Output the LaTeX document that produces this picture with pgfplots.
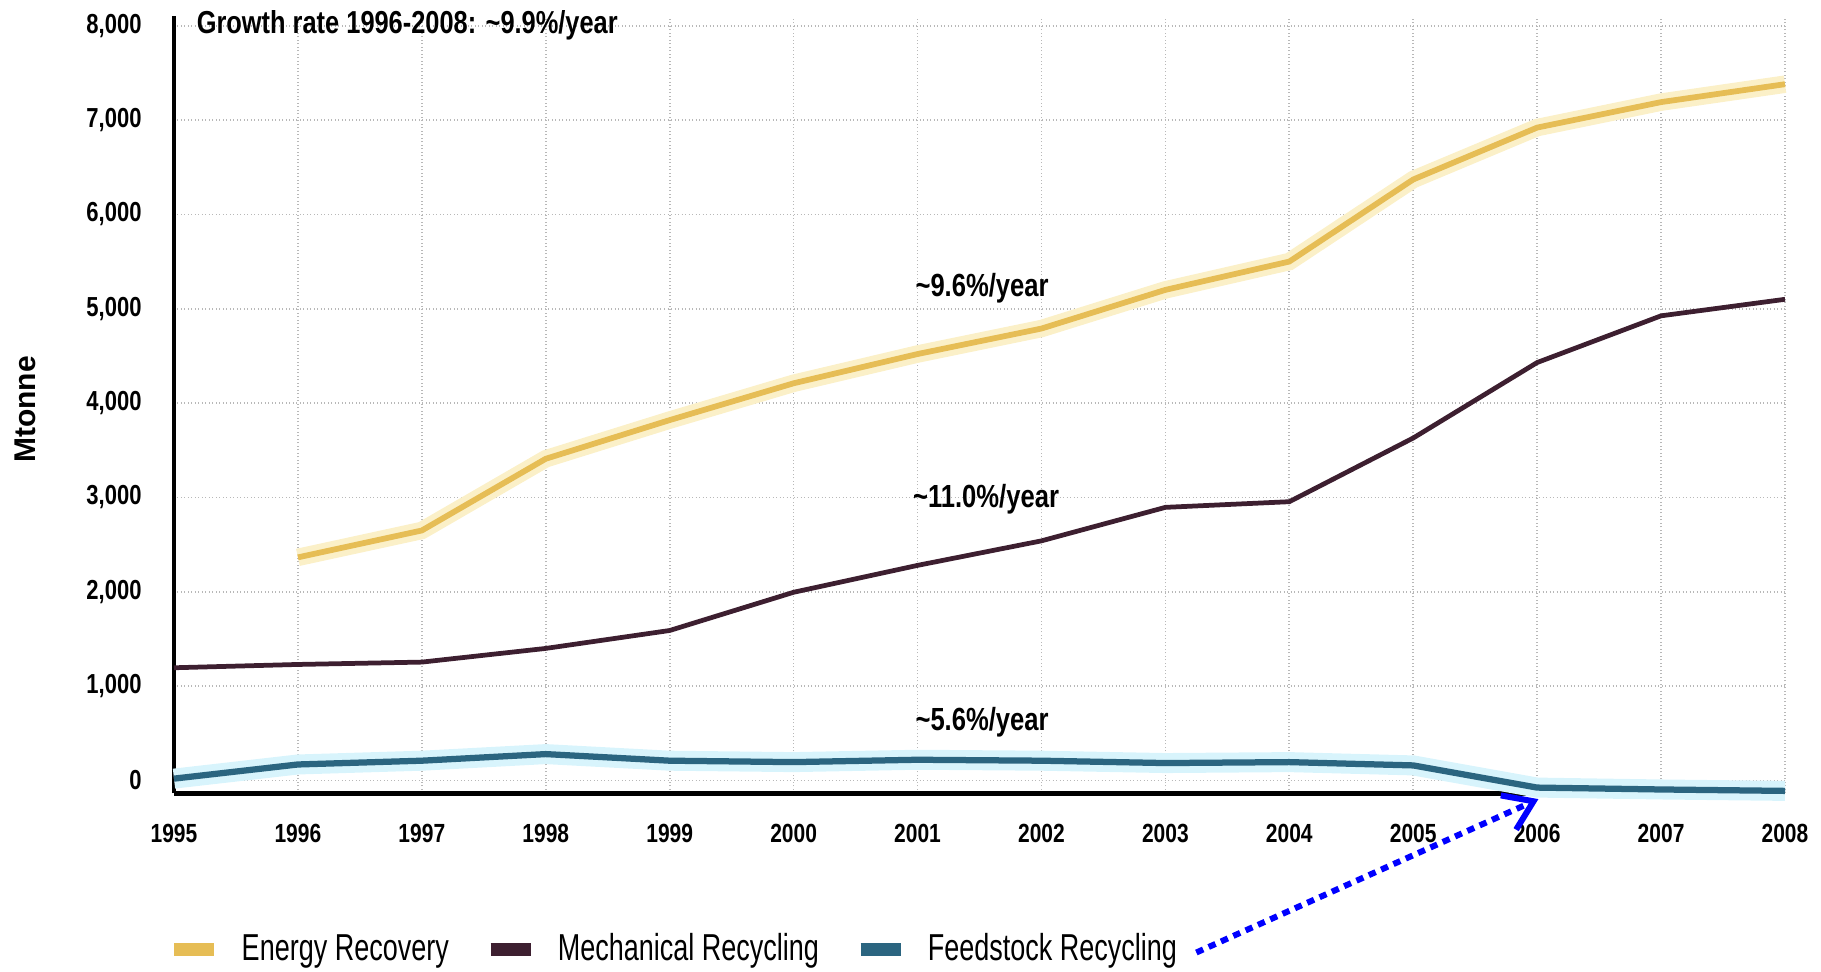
\documentclass[border=0pt]{standalone}
\usepackage{pgfplots}
\pgfplotsset{compat=1.18}
\usepackage{fontspec}
\setmainfont{Liberation Sans}
\newfontfamily\condf[FakeStretch=0.8]{Liberation Sans}
\newfontfamily\legf[FakeStretch=0.72]{Liberation Sans}
\usetikzlibrary{arrows.meta}
\definecolor{energy}{HTML}{E6BD55}
\definecolor{mech}{HTML}{3D1F30}
\definecolor{feed}{HTML}{2B6580}
\definecolor{energyglow}{HTML}{FBF0C8}
\definecolor{feedglow}{HTML}{D8F4FC}

\pgfplotstableread{
year val
1996 2365
1997 2650
1998 3410
1999 3820
2000 4210
2001 4520
2002 4790
2003 5200
2004 5500
2005 6370
2006 6920
2007 7190
2008 7380
}\energytab

\pgfplotstableread{
year val
1995 1195
1996 1230
1997 1255
1998 1400
1999 1590
2000 1995
2001 2280
2002 2540
2003 2895
2004 2955
2005 3630
2006 4430
2007 4925
2008 5100
}\mechtab

\pgfplotstableread{
year val
1995 20
1996 170
1997 210
1998 280
1999 210
2000 195
2001 220
2002 210
2003 185
2004 195
2005 160
2006 -75
2007 -95
2008 -110
}\feedtab

\begin{document}
\begin{tikzpicture}
\useasboundingbox (-69.6pt,-71.2pt) rectangle (658.8pt,317.3pt);
\begin{axis}[
  at={(0pt,0pt)}, anchor=south west,
  scale only axis, width=644.4pt, height=310.8pt,
  xmin=1995, xmax=2008, ymin=-135, ymax=8100,
  axis x line*=bottom, axis y line*=left,
  x axis line style={line width=2pt, black},
  y axis line style={line width=1.4pt, black},
  xtick={1995,1996,...,2008}, ytick={0,1000,...,8000},
  grid=major, grid style={densely dotted, black!28, line width=0.7pt},
  major tick length=0pt,
  /pgf/number format/assume math mode=true,
  yticklabel style={/pgf/number format/1000 sep={,}, font=\condf\bfseries\fontsize{11}{13}\selectfont, inner sep=0pt, anchor=east, xshift=-12.8pt},
  xticklabel style={/pgf/number format/1000 sep={}, font=\condf\bfseries\fontsize{10.5}{12}\selectfont, inner sep=0pt, anchor=north, yshift=-12pt},
  clip=false,
  legend columns=3,
  legend cell align=left,
  legend image code/.code={\draw[#1, line width=5pt, line cap=butt] (0pt,0pt) -- (16pt,0pt);},
  legend style={at={(0,-0.2008)}, anchor=west, xshift=-2.3pt, draw=none, fill=none, inner sep=0pt, outer sep=0pt,
    font=\legf\fontsize{15}{18}\selectfont,
    nodes={inner sep=0pt},
    /tikz/every odd column/.append style={column sep=8.4pt},
    /tikz/every even column/.append style={column sep=14.2pt}},
]
% glow underlays
\addplot[forget plot, line width=7pt, energyglow] table[x=year, y=val] {\energytab};
\addplot[forget plot, line width=8pt, feedglow] table[x=year, y=val] {\feedtab};
% series
\addplot[energy, line width=2.3pt] table[x=year, y=val] {\energytab};
\addlegendentry{Energy Recovery}
\addplot[mech, line width=1.9pt] table[x=year, y=val] {\mechtab};
\addlegendentry{Mechanical Recycling}
\addplot[feed, line width=2.5pt] table[x=year, y=val] {\feedtab};
\addlegendentry{Feedstock Recycling}

\node[anchor=west, inner sep=0pt, font=\condf\bfseries\fontsize{12.7}{15}\selectfont] at (axis cs:1995.18,8000) {Growth rate 1996-2008: \textasciitilde 9.9\%/year};
\node[anchor=west, inner sep=0pt, font=\condf\bfseries\fontsize{12.8}{15}\selectfont] at (axis cs:2000.98,5220) {\textasciitilde 9.6\%/year};
\node[anchor=west, inner sep=0pt, font=\condf\bfseries\fontsize{12.8}{15}\selectfont] at (axis cs:2000.96,2980) {\textasciitilde 11.0\%/year};
\node[anchor=west, inner sep=0pt, font=\condf\bfseries\fontsize{12.8}{15}\selectfont] at (axis cs:2000.98,616) {\textasciitilde 5.6\%/year};
\node[rotate=90, inner sep=0pt, font=\bfseries\fontsize{12}{14}\selectfont] at ([xshift=-59.4pt]rel axis cs:0,0.494) {Mtonne};

\draw[blue, line width=2.4pt, dash pattern=on 3pt off 2.4pt, -{Straight Barb[length=11pt,width=15pt]}] (axis cs:2003.25,-1823) -- (axis cs:2006.01,-197);
\end{axis}
\end{tikzpicture}
\end{document}
